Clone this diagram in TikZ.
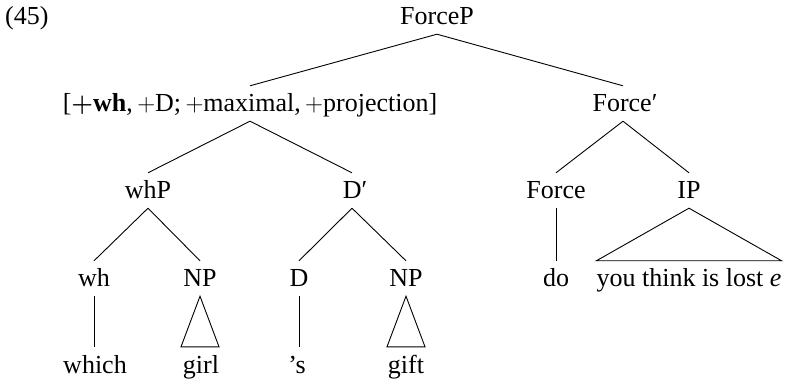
\documentclass[tikz,border=0pt]{standalone}
\usepackage{fontspec}
\setmainfont{Liberation Serif}
\newcommand{\pl}{\ensuremath{+}}
\newcommand{\bpl}{{\boldmath$+$}}
\begin{document}
\begin{tikzpicture}[x=1pt,y=-1pt,
  lab/.style={anchor=base,inner xsep=0pt,inner ysep=9pt,text height=17pt,text depth=0pt,font=\fontsize{26}{30}\selectfont},
  br/.style={line width=0.9pt}]
\useasboundingbox (0,0) rectangle (785,382);
\node[lab,anchor=base west] (ex) at (5,25) {(45)};
% level 0
\node[lab] (forcep) at (437,25) {ForceP};
% level 1
\node[lab] (feat) at (250,112) {[\textbf{\bpl wh},\,\pl D;\,\pl maximal,\,\pl projection]};
\node[lab] (forcebar) at (625,112) {Force′};
% level 2
\node[lab] (whp) at (148,199) {whP};
\node[lab] (dbar) at (355,199) {D′};
\node[lab] (force) at (556,199) {Force};
\node[lab] (ip) at (689,199) {IP};
% level 3
\node[lab] (wh) at (94,287) {wh};
\node[lab] (np1) at (200,287) {NP};
\node[lab] (d) at (299,287) {D};
\node[lab] (np2) at (406,287) {NP};
\node[lab] (do) at (556,287) {do};
\node[lab] (ipw) at (689,287) {you think is lost \textit{e}};
% level 4
\node[lab] (which) at (95,373) {which};
\node[lab] (girl) at (201,373) {girl};
\node[lab] (poss) at (297,373) {’s};
\node[lab] (gift) at (406,373) {gift};
% branches
\draw[br] (forcep.south) -- (feat.north);
\draw[br] (forcep.south) -- ([xshift=-2pt]forcebar.north);
\draw[br] (feat.south) -- (whp.north);
\draw[br] (feat.south) -- ([xshift=-3pt]dbar.north);
\draw[br] ([xshift=-2pt]forcebar.south) -- (force.north);
\draw[br] ([xshift=-2pt]forcebar.south) -- (ip.north);
\draw[br] (whp.south) -- (wh.north);
\draw[br] (whp.south) -- (np1.north);
\draw[br] ([xshift=-3pt]dbar.south) -- (d.north);
\draw[br] ([xshift=-3pt]dbar.south) -- (np2.north);
\draw[br] (wh.south) -- (wh.south |- which.north);
\draw[br] (d.south) -- (d.south |- poss.north);
\draw[br] (force.south) -- (do.north);
% triangles
\draw[br] (np1.south) -- ([xshift=-19pt]np1.south |- girl.north) -- ([xshift=19pt]np1.south |- girl.north) -- cycle;
\draw[br] (np2.south) -- ([xshift=-19pt]np2.south |- gift.north) -- ([xshift=19pt]np2.south |- gift.north) -- cycle;
\draw[br] (ip.south) -- (ipw.north west) -- (ipw.north east) -- cycle;
\end{tikzpicture}
\end{document}
